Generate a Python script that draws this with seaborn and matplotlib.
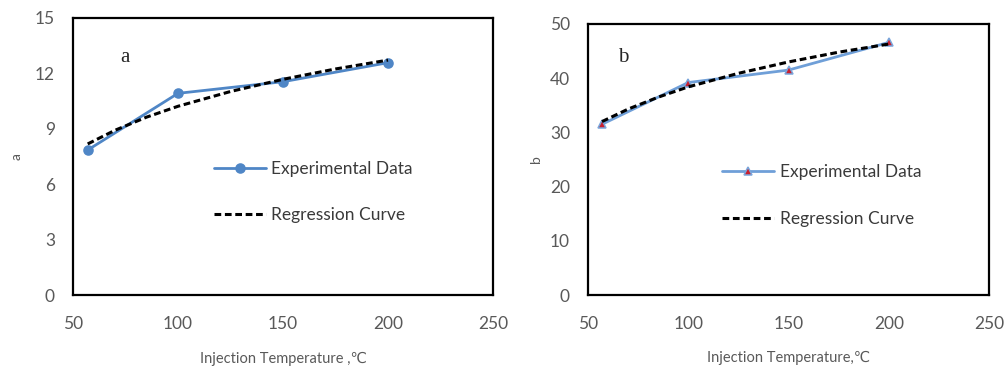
import matplotlib
matplotlib.use("Agg")
import matplotlib.pyplot as plt
import seaborn as sns
import pandas as pd

# ---- data ----
temp_exp = [57, 100, 150, 200]
a_exp = [7.85, 10.92, 11.55, 12.58]
b_exp = [31.5, 39.2, 41.5, 46.6]

temp_reg = [57, 70, 85, 100, 125, 150, 175, 200]
a_reg = [8.18, 8.92, 9.63, 10.22, 11.02, 11.68, 12.24, 12.72]
b_reg = [32.0, 34.3, 36.5, 38.4, 40.9, 43.0, 44.8, 46.3]

x_ticks = [50, 100, 150, 200, 250]
a_ticks = [0, 3, 6, 9, 12, 15]
b_ticks = [0, 10, 20, 30, 40, 50]

sns.set_style("white")
plt.rcParams['font.family'] = ['Lato', 'DejaVu Sans']

fig = plt.figure(figsize=(10.05, 3.71), dpi=100)
W, H = 1005, 371
ax1 = fig.add_axes([73 / W, (H - 295) / H, 420 / W, 277 / H])
ax2 = fig.add_axes([588 / W, (H - 295) / H, 401 / W, 271 / H])

tick_col = '#595959'
exp_vals = {'a': a_exp, 'b': b_exp}
reg_vals = {'a': a_reg, 'b': b_reg}


def style(ax, yticks, ylabel, xlabel, letter, letter_pos, leg_anchor, mk, ms, mfc, mec, lc):
    df_e = pd.DataFrame({'T': temp_exp, 'v': exp_vals[ylabel]})
    df_r = pd.DataFrame({'T': temp_reg, 'v': reg_vals[ylabel]})
    sns.lineplot(data=df_e, x='T', y='v', ax=ax, color=lc, lw=2.0, marker=mk,
                 markersize=ms, markerfacecolor=mfc,
                 markeredgecolor=mec, markeredgewidth=1.1, label='Experimental Data',
                 zorder=3)
    sns.lineplot(data=df_r, x='T', y='v', ax=ax, color='black', lw=2.2,
                 linestyle=(0, (2.2, 1.2)), label='Regression Curve', zorder=4)
    ax.set_xlim(50, 250)
    ax.set_ylim(yticks[0], yticks[-1])
    ax.set_xticks(x_ticks)
    ax.set_yticks(yticks)
    ax.tick_params(axis='both', direction='in', length=5, width=1, color='#404040',
                   labelsize=12.5, labelcolor=tick_col)
    ax.tick_params(axis='x', pad=15)
    ax.tick_params(axis='y', pad=13)
    for s in ax.spines.values():
        s.set_visible(True)
        s.set_color('black')
        s.set_linewidth(1.6)
    ax.set_xlabel(xlabel, fontsize=10.5, color=tick_col)
    ax.xaxis.set_label_coords(0.5, -0.205)
    ax.set_ylabel(ylabel, fontsize=10, color=tick_col)
    ax.text(letter_pos[0], letter_pos[1], letter, transform=ax.transAxes,
            family='Liberation Serif', fontsize=15, ha='center', va='center')
    leg = ax.legend(loc='center left', bbox_to_anchor=leg_anchor, frameon=False,
                    fontsize=12.5, handlelength=3.0, handletextpad=0.3,
                    labelspacing=1.75, borderaxespad=0, borderpad=0)
    for t in leg.get_texts():
        t.set_color('#3a3a3a')


style(ax1, a_ticks, 'a', 'Injection Temperature ,\u2103', 'a', (0.124, 0.859),
      (0.335, 0.372), 'o', 6.5, '#4f86c6', '#4f86c6', '#4f86c6')
ax1.yaxis.set_label_coords(-0.12, 0.5)
style(ax2, b_ticks, 'b', 'Injection Temperature,\u2103', 'b', (0.087, 0.878),
      (0.335, 0.367), '^', 5.5, '#c8202f', '#7aa6dc', '#6f9fd8')
ax2.yaxis.set_label_coords(-0.115, 0.5)

fig.savefig('out.png', dpi=100)
